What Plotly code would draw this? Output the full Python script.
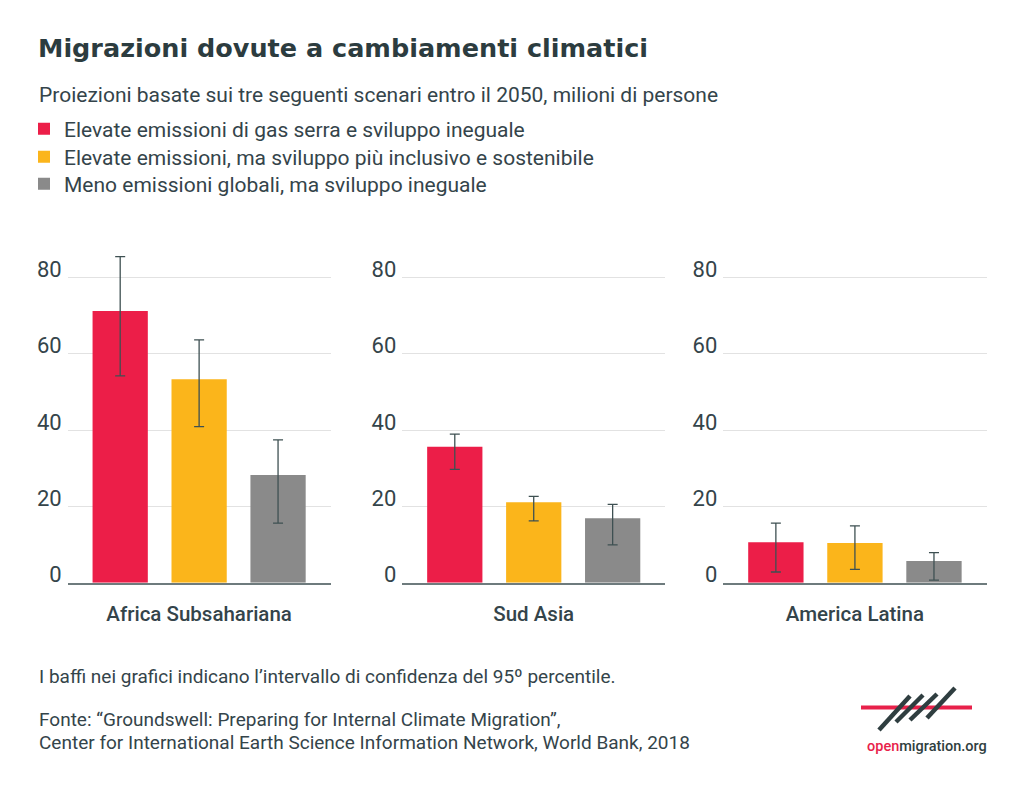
import plotly.graph_objects as go

regions = ["Africa Subsahariana", "Sud Asia", "America Latina"]
scenarios = [
    "Elevate emissioni di gas serra e sviluppo ineguale",
    "Elevate emissioni, ma sviluppo più inclusivo e sostenibile",
    "Meno emissioni globali, ma sviluppo ineguale",
]
# values per scenario, ordered by region
values_high = [71.2, 35.6, 10.6]
values_inclusive = [53.3, 21.1, 10.4]
values_low = [28.2, 16.9, 5.7]
# 95% confidence interval bounds
upper_high = [85.4, 38.9, 15.6]
lower_high = [54.2, 29.7, 2.8]
upper_inclusive = [63.6, 22.6, 14.9]
lower_inclusive = [40.9, 16.2, 3.5]
upper_low = [37.4, 20.5, 7.9]
lower_low = [15.6, 9.9, 0.7]
y_ticks = [0, 20, 40, 60, 80]

colors = ["#EC1E48", "#FBB51B", "#8A8A8A"]
series = [
    (values_high, upper_high, lower_high),
    (values_inclusive, upper_inclusive, lower_inclusive),
    (values_low, upper_low, lower_low),
]

TXT = "#34444A"
W, H = 1024, 788
fig = go.Figure()

# pixel domains of the panels
x_dom_px = [(67.7, 330.7), (402.3, 665.3), (723.3, 986.7)]
y0_px, y80_px = 582.7, 277.3
ppu = (y0_px - y80_px) / 80
ymax = 90
ydom = [(H - y0_px) / H, (H - (y0_px - ymax * ppu)) / H]
legend_ids = ["legend", "legend2", "legend3"]
legend_rows_px = [129, 157, 184]

for r, region in enumerate(regions):
    xa = "x" if r == 0 else f"x{r+1}"
    ya = "y" if r == 0 else f"y{r+1}"
    for s, (vals, up, lo) in enumerate(series):
        v = vals[r]
        fig.add_trace(go.Bar(
            x=[s], y=[v], name=scenarios[s],
            marker=dict(color=colors[s], line=dict(width=0)),
            width=0.7,
            error_y=dict(type="data", symmetric=False,
                         array=[up[r] - v], arrayminus=[v - lo[r]],
                         color="#3E5052", thickness=1.3, width=5),
            xaxis=xa, yaxis=ya,
            showlegend=(r == 0), legend=legend_ids[s],
            hoverinfo="skip",
        ))
    xk = "xaxis" if r == 0 else f"xaxis{r+1}"
    yk = "yaxis" if r == 0 else f"yaxis{r+1}"
    d = x_dom_px[r]
    fig.layout[xk] = dict(
        domain=[d[0] / W, d[1] / W], range=[-0.665, 2.667],
        anchor=ya, tickvals=[1], ticktext=[region], ticks="",
        showgrid=False, zeroline=False, showline=True,
        linecolor="#6E7B7D", linewidth=1.5,
        tickfont=dict(family="Roboto", size=20.5, color=TXT, weight=500),
        ticklabelstandoff=12, fixedrange=True, automargin=False,
    )
    fig.layout[yk] = dict(
        domain=ydom, range=[0, ymax], anchor=xa,
        tickvals=y_ticks, ticks="", showgrid=True,
        gridcolor="#E2E2E2", gridwidth=1, zeroline=False,
        showline=False,
        tickfont=dict(family="Roboto", size=22, color=TXT),
        ticklabelstandoff=5, ticklabelshift=-8, fixedrange=True, automargin=False,
    )

for lid, row in zip(legend_ids, legend_rows_px):
    fig.layout[lid] = dict(
        x=24 / W, y=1 - row / H, xanchor="left", yanchor="middle",
        font=dict(family="Roboto", size=21, color=TXT),
        bgcolor="rgba(0,0,0,0)", itemclick=False, itemdoubleclick=False,
    )

annotations = [
    dict(text="<b>Migrazioni dovute a cambiamenti climatici</b>", x=36 / W, y=1 - 48 / H,
         xanchor="left", yanchor="middle",
         font=dict(family="DejaVu Sans", size=25.5, color="#2C3C3F")),
    dict(text="Proiezioni basate sui tre seguenti scenari entro il 2050, milioni di persone",
         x=37 / W, y=1 - 95 / H, xanchor="left", yanchor="middle",
         font=dict(family="Roboto", size=21, color=TXT)),
    dict(text="I baffi nei grafici indicano l’intervallo di confidenza del 95º percentile.",
         x=37 / W, y=1 - 676 / H, xanchor="left", yanchor="middle",
         font=dict(family="Roboto", size=19, color=TXT)),
    dict(text="Fonte: “Groundswell: Preparing for Internal Climate Migration”,",
         x=37 / W, y=1 - 719 / H, xanchor="left", yanchor="middle",
         font=dict(family="Roboto", size=19, color=TXT)),
    dict(text="Center for International Earth Science Information Network, World Bank, 2018",
         x=37 / W, y=1 - 742 / H, xanchor="left", yanchor="middle",
         font=dict(family="Roboto", size=19, color=TXT)),
    dict(text="<span style='color:#E8214A'>open</span>migration.org",
         x=927 / W, y=1 - 746 / H, xanchor="center", yanchor="middle",
         font=dict(family="Roboto", size=14.5, color="#2F3E40", weight=500)),
]
for a in annotations:
    a.update(xref="paper", yref="paper", showarrow=False)

shapes = [
    dict(type="line", x0=861 / W, x1=972 / W, y0=1 - 707.5 / H, y1=1 - 707.5 / H,
         line=dict(color="#E8214A", width=4)),
]
strokes = [((879, 730), (910, 696)), ((896, 722), (923, 695)),
           ((910, 720), (937, 694)), ((927, 718), (955, 688))]
for (a, b) in strokes:
    shapes.append(dict(type="line", x0=a[0] / W, y0=1 - a[1] / H, x1=b[0] / W, y1=1 - b[1] / H,
                       line=dict(color="#2F3E40", width=4.5)))
for s in shapes:
    s.update(xref="paper", yref="paper", layer="above")

fig.update_layout(
    width=W, height=H, margin=dict(l=0, r=0, t=0, b=0, autoexpand=False),
    paper_bgcolor="white", plot_bgcolor="white",
    annotations=annotations, shapes=shapes,
    barmode="overlay",
    font=dict(family="Roboto"),
)

fig.write_html("out.html", config={"displayModeBar": False})
